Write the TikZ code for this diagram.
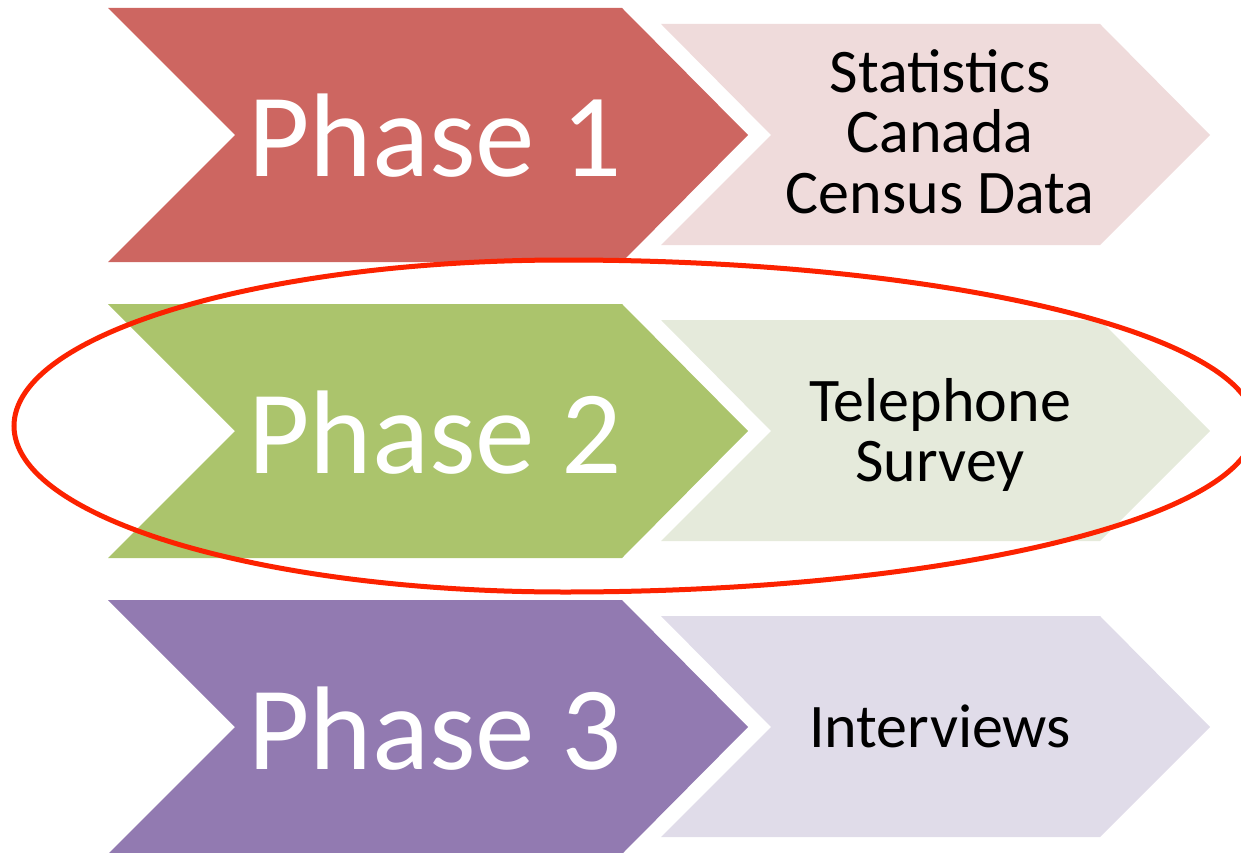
\documentclass[tikz,border=0pt]{standalone}
\usepackage{fontspec}
\setmainfont{Carlito}
\definecolor{darkA}{RGB}{205,102,97}
\definecolor{darkB}{RGB}{171,196,108}
\definecolor{darkC}{RGB}{146,122,177}
\definecolor{lightA}{RGB}{239,219,219}
\definecolor{lightB}{RGB}{229,234,219}
\definecolor{lightC}{RGB}{224,220,233}
\definecolor{ringred}{RGB}{252,34,0}
\begin{document}
\begin{tikzpicture}[x=1pt,y=-1pt,
  bigtxt/.style={text=white,font=\fontsize{119}{119}\selectfont,anchor=base,inner sep=0pt},
  smalltxt/.style={text=black,font=\fontsize{62}{60}\selectfont,anchor=base,inner sep=0pt},
  ringline/.style={draw=ringred,line width=5pt}]
\useasboundingbox (0,0) rectangle (1241,853);
\foreach \t/\dk/\lt in {8/darkA/lightA, 304/darkB/lightB, 600/darkC/lightC}{
  \fill[\dk] (108,\t) -- (622,\t) -- (748,\t+127) -- (622,\t+254) -- (108,\t+254) -- (235,\t+127) -- cycle;
  \fill[\lt] (661,\t+16) -- (1100,\t+16) -- (1210,\t+127) -- (1100,\t+237) -- (661,\t+237) -- (771,\t+127) -- cycle;
}
\node[bigtxt] (p1) at (435,177) {Phase 1};
\node[bigtxt] (p2) at (435,473) {Phase 2};
\node[bigtxt] (p3) at (435,769) {Phase 3};
\node[smalltxt] (s1a) at (940,93) {Statistics};
\node[smalltxt] (s1b) at (940,153) {Canada};
\node[smalltxt] (s1c) at (940,213) {Census Data};
\node[smalltxt] (s2a) at (940,421) {Telephone};
\node[smalltxt] (s2b) at (940,481) {Survey};
\node[smalltxt] (s3a) at (940,747) {Interviews};
\path[ringline] (14,426) .. controls (14,334.3) and (260.7,260) .. (565,260)
  .. controls (946.1,260) and (1255,334.3) .. (1255,426)
  .. controls (1255,517.7) and (946.1,592) .. (565,592)
  .. controls (260.7,592) and (14,517.7) .. (14,426) -- cycle;
\end{tikzpicture}
\end{document}
